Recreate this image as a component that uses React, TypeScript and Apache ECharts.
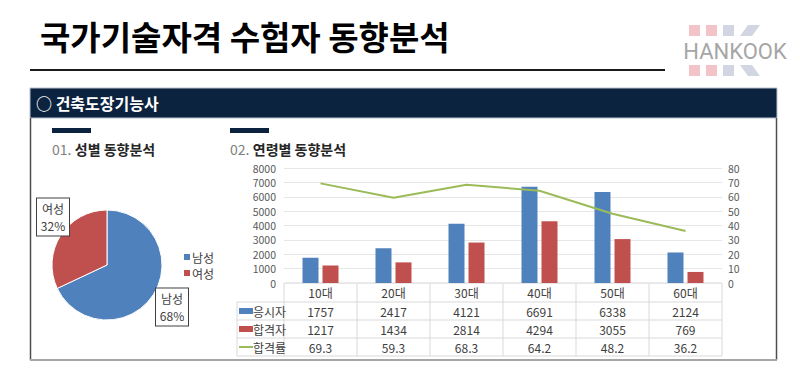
import React, { useEffect, useRef } from "react";
import * as echarts from "echarts";

const FONT = '"Noto Sans CJK KR", "Noto Sans", sans-serif';

const pageTitle = "국가기술자격 수험자 동향분석";
const panelTitle = "○ 건축도장기능사";
const section1 = ["01.", "성별 동향분석"];
const section2 = ["02.", "연령별 동향분석"];

const genderNames = ["남성", "여성"];
const genderShares = [68, 32];

const ageCategories = ["10대", "20대", "30대", "40대", "50대", "60대"];
const applicants = [1757, 2417, 4121, 6691, 6338, 2124];
const passers = [1217, 1434, 2814, 4294, 3055, 769];
const passRates = [69.3, 59.3, 68.3, 64.2, 48.2, 36.2];
const seriesNames = ["응시자", "합격자", "합격률"];

const BLUE = "#4f81bd";
const RED = "#c0504d";
const GREEN = "#9bbb59";
const NAVY = "#0c2340";

export default function App() {
  const ref = useRef<HTMLDivElement>(null);

  useEffect(() => {
    if (!ref.current) return;
    const chart = echarts.init(ref.current, null, { renderer: "svg" });

    const gLeft = 284;
    const gRight = 722;
    const gTop = 168;
    const gBottom = 283;
    const colW = (gRight - gLeft) / ageCategories.length;
    const rowTops = [283, 302, 320, 338, 356];
    const labelLeft = 237;
    const lineColor = "#d9d9d9";
    const textColor = "#404040";

    const g: any[] = [];

    // Title
    g.push({
      type: "text",
      left: 40,
      top: 19,
      style: { text: pageTitle, font: `bold 33px ${FONT}`, fill: "#000" },
    });
    g.push({
      type: "line",
      shape: { x1: 30, y1: 70, x2: 665, y2: 70 },
      style: { stroke: "#1a1a1a", lineWidth: 2 },
    });

    // Logo
    const pink = "#f2c4c9";
    const grayb = "#d2d6e2";
    const sq = 11;
    const xs = [689, 706, 723];
    const topY = 25;
    const botY = 65;
    [pink, pink, grayb].forEach((c, i) => {
      g.push({ type: "rect", shape: { x: xs[i], y: topY, width: sq, height: sq }, style: { fill: c } });
      g.push({ type: "rect", shape: { x: xs[i], y: botY, width: sq, height: sq }, style: { fill: c } });
    });
    g.push({
      type: "polygon",
      shape: { points: [[740, topY + sq], [748, topY], [760, topY], [752, topY + sq]] },
      style: { fill: grayb },
    });
    g.push({
      type: "polygon",
      shape: { points: [[740, botY], [752, botY], [760, botY + sq], [748, botY + sq]] },
      style: { fill: grayb },
    });
    g.push({
      type: "text",
      x: 735,
      y: 51,
      style: {
        text: "HANKOOK",
        font: `22px "Liberation Sans Narrow", "Roboto", sans-serif`,
        fill: "#a6a6a6",
        align: "center",
        verticalAlign: "middle",
      },
    });

    // Panel
    g.push({
      type: "rect",
      shape: { x: 30, y: 88, width: 747, height: 30 },
      style: { fill: NAVY, stroke: "#b8c2d0", lineWidth: 1 },
    });
    g.push({
      type: "text",
      x: 36,
      y: 103,
      style: {
        text: panelTitle,
        font: `bold 16px ${FONT}`,
        fill: "#fff",
        verticalAlign: "middle",
      },
    });
    g.push({ type: "line", shape: { x1: 30.5, y1: 118, x2: 30.5, y2: 360 }, style: { stroke: "#4d4d4d", lineWidth: 1.5 } });
    g.push({ type: "line", shape: { x1: 776.5, y1: 118, x2: 776.5, y2: 360 }, style: { stroke: "#4d4d4d", lineWidth: 1.5 } });
    g.push({ type: "line", shape: { x1: 30, y1: 360, x2: 777, y2: 360 }, style: { stroke: "#a6a6a6", lineWidth: 2 } });

    // Section headers
    [[52, section1], [230, section2]].forEach(([x, s]: any) => {
      g.push({ type: "rect", shape: { x, y: 128, width: 39, height: 5 }, style: { fill: NAVY } });
      g.push({
        type: "text",
        x,
        y: 149,
        style: {
          text: `{a|${s[0]}} {b|${s[1]}}`,
          verticalAlign: "middle",
          rich: {
            a: { font: `14px ${FONT}`, fill: "#808080" },
            b: { font: `bold 14px ${FONT}`, fill: "#262626" },
          },
        },
      });
    });

    // Pie legend
    genderNames.forEach((n, i) => {
      const cy = 257 + i * 16;
      g.push({ type: "rect", shape: { x: 184, y: cy - 3, width: 6, height: 6 }, style: { fill: i === 0 ? BLUE : RED } });
      g.push({
        type: "text",
        x: 192,
        y: cy,
        style: { text: n, font: `12px ${FONT}`, fill: textColor, verticalAlign: "middle" },
      });
    });

    // Table lines
    g.push({ type: "line", shape: { x1: gLeft, y1: rowTops[0], x2: gRight, y2: rowTops[0] }, style: { stroke: lineColor, lineWidth: 1 } });
    for (let r = 1; r < rowTops.length; r++) {
      g.push({ type: "line", shape: { x1: labelLeft, y1: rowTops[r], x2: gRight, y2: rowTops[r] }, style: { stroke: lineColor, lineWidth: 1 } });
    }
    for (let c = 0; c <= ageCategories.length; c++) {
      const x = gLeft + c * colW;
      g.push({ type: "line", shape: { x1: x, y1: rowTops[0], x2: x, y2: rowTops[4] }, style: { stroke: lineColor, lineWidth: 1 } });
    }
    g.push({ type: "line", shape: { x1: labelLeft, y1: rowTops[1], x2: labelLeft, y2: rowTops[4] }, style: { stroke: lineColor, lineWidth: 1 } });

    const rows: (string | number)[][] = [ageCategories, applicants, passers, passRates.map((v) => v.toFixed(1))];
    rows.forEach((row, r) => {
      const cy = (rowTops[r] + rowTops[r + 1]) / 2;
      row.forEach((v, c) => {
        g.push({
          type: "text",
          x: gLeft + colW * (c + 0.5),
          y: cy,
          style: { text: String(v), font: `12px ${FONT}`, fill: textColor, align: "center", verticalAlign: "middle" },
        });
      });
    });
    const keyColors = [BLUE, RED, GREEN];
    seriesNames.forEach((name, i) => {
      const cy = (rowTops[i + 1] + rowTops[i + 2]) / 2;
      if (i < 2) {
        g.push({ type: "rect", shape: { x: 239, y: cy - 3, width: 14, height: 6 }, style: { fill: keyColors[i] } });
      } else {
        g.push({ type: "line", shape: { x1: 239, y1: cy, x2: 253, y2: cy }, style: { stroke: keyColors[i], lineWidth: 2 } });
      }
      g.push({
        type: "text",
        x: 253,
        y: cy,
        style: { text: name, font: `12px ${FONT}`, fill: textColor, verticalAlign: "middle" },
      });
    });

    const labelPos: [number, number][] = [[172, 307], [53, 217]];

    chart.setOption({
      animation: false,
      textStyle: { fontFamily: FONT },
      grid: { left: gLeft, right: 800 - gRight, top: gTop, bottom: 388 - gBottom },
      xAxis: {
        type: "category",
        data: ageCategories,
        axisLine: { show: false },
        axisTick: { show: false },
        axisLabel: { show: false },
      },
      yAxis: [
        {
          type: "value",
          min: 0,
          max: 8000,
          interval: 1000,
          axisLabel: { fontSize: 10.5, lineHeight: 11, color: "#595959", margin: 8, formatter: (v: number) => String(v) },
          splitLine: { lineStyle: { color: "#e6e6e6" } },
        },
        {
          type: "value",
          min: 0,
          max: 80,
          interval: 10,
          axisLabel: { fontSize: 10.5, lineHeight: 11, color: "#595959", margin: 6, formatter: (v: number) => String(v) },
          splitLine: { show: false },
        },
      ],
      series: [
        {
          type: "pie",
          center: [107, 265],
          radius: 55,
          startAngle: 90,
          clockwise: true,
          avoidLabelOverlap: false,
          data: genderNames.map((n, i) => ({
            name: n,
            value: genderShares[i],
            itemStyle: { color: i === 0 ? BLUE : RED },
          })),
          itemStyle: { borderColor: "#fff", borderWidth: 1 },
          label: {
            show: true,
            position: "outside",
            formatter: "{b}\n{c}%",
            fontSize: 12,
            lineHeight: 17,
            color: textColor,
            backgroundColor: "#fff",
            borderColor: "#404040",
            borderWidth: 1,
            padding: [2, 2, 1, 2],
            align: "center",
            overflow: "none",
            width: 28,
          },
          labelLine: { show: false },
          labelLayout: (p: any) => {
            const pos = labelPos[p.dataIndex] || [0, 0];
            return { x: pos[0], y: pos[1], align: "center", verticalAlign: "middle", hideOverlap: false };
          },
        },
        {
          name: seriesNames[0],
          type: "bar",
          data: applicants,
          barWidth: 16,
          barGap: "25%",
          itemStyle: { color: BLUE },
        },
        {
          name: seriesNames[1],
          type: "bar",
          data: passers,
          barWidth: 16,
          barGap: "25%",
          itemStyle: { color: RED },
        },
        {
          name: seriesNames[2],
          type: "line",
          yAxisIndex: 1,
          data: passRates,
          symbol: "none",
          lineStyle: { color: GREEN, width: 2 },
          itemStyle: { color: GREEN },
        },
      ],
      graphic: g,
    });

    return () => chart.dispose();
  }, []);

  return (
    <div
      ref={ref}
      style={{ position: "fixed", left: 0, top: 0, width: 800, height: 388, background: "#fff" }}
    />
  );
}
